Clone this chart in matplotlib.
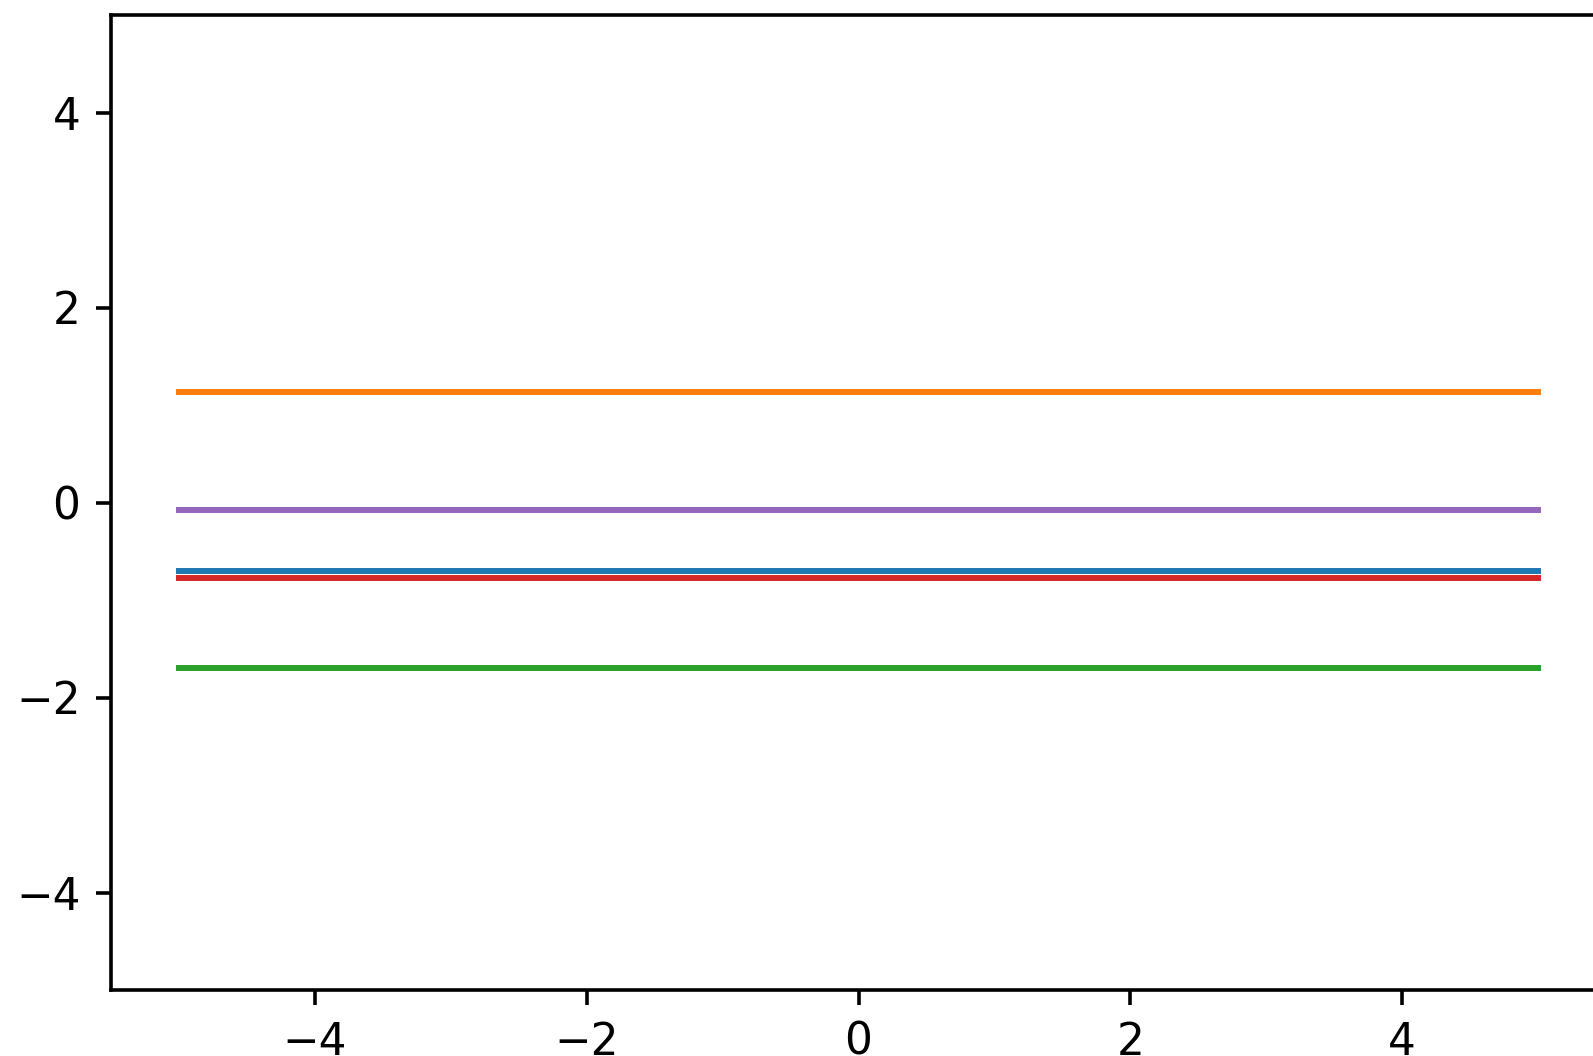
import numpy as np
import matplotlib.pyplot as plt

# Werte der fünf waagrechten Linien (Reihenfolge = Standard-Farbzyklus)
x_range = [-5, 5]
levels = [-0.70, 1.13, -1.70, -0.77, -0.08]

fig = plt.figure(figsize=(15.93, 10.56), dpi=100)
W, H = 1593, 1056
# Achse geht rechts über den Bildrand hinaus (Original ist abgeschnitten)
ax = fig.add_axes([111 / W, (H - 990) / H, 1495 / W, 975 / H])

for lev in levels:
    ax.plot(x_range, [lev, lev], lw=4.3)

ax.set_xlim(-5.5, 5.5)
ax.set_ylim(-5, 5)
ax.set_xticks([-4, -2, 0, 2, 4])
ax.set_yticks([-4, -2, 0, 2, 4])

for s in ax.spines.values():
    s.set_linewidth(2.6)
ax.tick_params(labelsize=31.5, length=11, width=2.6, pad=11)

fig.savefig("out.png", dpi=100)
